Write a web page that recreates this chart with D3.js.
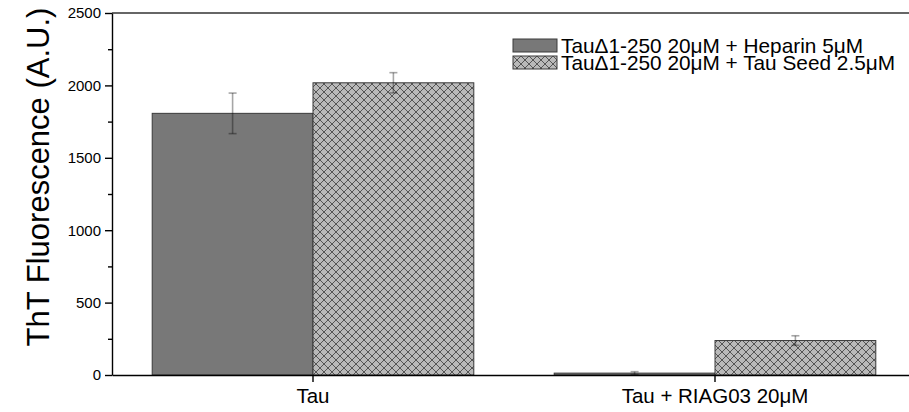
<!DOCTYPE html>
<html>
<head>
<meta charset="utf-8">
<script src="https://cdn.jsdelivr.net/npm/d3@7"></script>
<style>
  html, body { margin: 0; padding: 0; background: #fff; }
  svg { display: block; }
  svg text { font-family: "Liberation Sans", Arial, sans-serif; }
</style>
</head>
<body>
<svg id="chart" width="909" height="412"></svg>
<script>
// Groups on the x axis
const categories = ["Tau", "Tau + RIAG03 20μM"];
// Series names (legend)
const seriesNames = ["TauΔ1-250 20μM + Heparin 5μM", "TauΔ1-250 20μM + Tau Seed 2.5μM"];
// Mean ThT fluorescence per series, one value per category
const heparinMeans = [1807, 13];
const seedMeans = [2018, 238];
// Error (± half-range) per series
const heparinErr = [140, 10];
const seedErr = [70, 33];
// Y tick values
const yMajorTicks = [0, 500, 1000, 1500, 2000, 2500];
const yMinorTicks = [250, 750, 1250, 1750, 2250];

const FONT = "'Liberation Sans', Arial, sans-serif";

const series = [
  { name: seriesNames[0], means: heparinMeans, errs: heparinErr, kind: "solid" },
  { name: seriesNames[1], means: seedMeans, errs: seedErr, kind: "hatch" }
];

const svg = d3.select("#chart");
const margin = { left: 112, top: 13, bottom: 375 };
const plotRight = 916;

const x = d3.scaleBand().domain(categories).range([margin.left, plotRight]).padding(0);
const xInner = d3.scaleBand().domain(series.map(s => s.name))
  .range([x.bandwidth() * 0.1, x.bandwidth() * 0.9]).padding(0);
const y = d3.scaleLinear().domain([0, 2500]).range([margin.bottom, margin.top]);

// Cross-hatch pattern for the seeded series
const defs = svg.append("defs");
const pat = defs.append("pattern")
  .attr("id", "xhatch").attr("patternUnits", "userSpaceOnUse")
  .attr("width", 8).attr("height", 8);
pat.append("rect").attr("width", 8).attr("height", 8).attr("fill", "#b9b9b9");
pat.append("path").attr("d", "M0,0L8,8M0,8L8,0M-1,1L1,-1M7,9L9,7M-1,7L1,9M7,-1L9,1")
  .attr("stroke", "#4a4a4a").attr("stroke-width", 0.9).attr("fill", "none");

const fillFor = s => s.kind === "solid" ? "#787878" : "url(#xhatch)";

// Top frame line
svg.append("line")
  .attr("x1", margin.left).attr("x2", plotRight)
  .attr("y1", y(2500)).attr("y2", y(2500))
  .attr("stroke", "#333").attr("stroke-width", 1.5);

// Bars
const groups = svg.append("g").selectAll("g").data(categories).join("g")
  .attr("transform", d => `translate(${x(d)},0)`);

series.forEach(s => {
  groups.append("rect")
    .attr("x", xInner(s.name))
    .attr("width", xInner.bandwidth())
    .attr("y", (d, i) => y(s.means[i]))
    .attr("height", (d, i) => y(0) - y(s.means[i]))
    .attr("fill", fillFor(s))
    .attr("stroke", "#3a3a3a").attr("stroke-width", 1);
});

// Error bars
series.forEach(s => {
  const eb = groups.append("g")
    .attr("stroke", "#000").attr("stroke-opacity", 0.35).attr("stroke-width", 1.6);
  const cx = xInner(s.name) + xInner.bandwidth() / 2;
  eb.append("line")
    .attr("x1", cx).attr("x2", cx)
    .attr("y1", (d, i) => y(s.means[i] + s.errs[i]))
    .attr("y2", (d, i) => y(s.means[i] - s.errs[i]));
  [1, -1].forEach(sign => {
    eb.append("line")
      .attr("x1", cx - 4).attr("x2", cx + 4)
      .attr("y1", (d, i) => y(s.means[i] + sign * s.errs[i]))
      .attr("y2", (d, i) => y(s.means[i] + sign * s.errs[i]));
  });
});

// Y axis (major + minor ticks)
const yAxis = svg.append("g").attr("transform", `translate(${margin.left},0)`)
  .call(d3.axisLeft(y).tickValues(yMajorTicks).tickFormat(d3.format("d"))
    .tickSize(7).tickSizeOuter(0).tickPadding(4));
svg.append("g").attr("transform", `translate(${margin.left},0)`)
  .call(d3.axisLeft(y).tickValues(yMinorTicks).tickSize(4).tickFormat(""))
  .call(g => g.select(".domain").remove());
yAxis.attr("font-family", FONT).attr("font-size", 15);
yAxis.selectAll("text").attr("fill", "#000");

// X axis
const xAxis = svg.append("g").attr("transform", `translate(0,${margin.bottom})`)
  .call(d3.axisBottom(x).tickSize(7).tickSizeOuter(0).tickPadding(6));
xAxis.attr("font-family", FONT).attr("font-size", 20.5);
xAxis.selectAll("text").attr("fill", "#000");

svg.selectAll(".domain, .tick line").attr("stroke", "#000").attr("stroke-width", 1.4);

// Y axis title
svg.append("text")
  .attr("transform", `translate(49,177) rotate(-90)`)
  .attr("text-anchor", "middle")
  .attr("font-family", FONT)
  .attr("font-size", 31).attr("fill", "#000")
  .text("ThT Fluorescence (A.U.)");

// Legend
const legend = svg.append("g").attr("transform", "translate(513,39)");
series.forEach((s, i) => {
  const row = legend.append("g").attr("transform", `translate(0,${i * 17})`);
  row.append("rect").attr("width", 44).attr("height", 13)
    .attr("fill", fillFor(s)).attr("stroke", "#3a3a3a").attr("stroke-width", 1);
  row.append("text").attr("x", 48).attr("y", 6.5).attr("dy", "0.36em")
    .attr("font-family", FONT)
    .attr("font-size", 20.8).attr("fill", "#000").text(s.name);
});
</script>
</body>
</html>
